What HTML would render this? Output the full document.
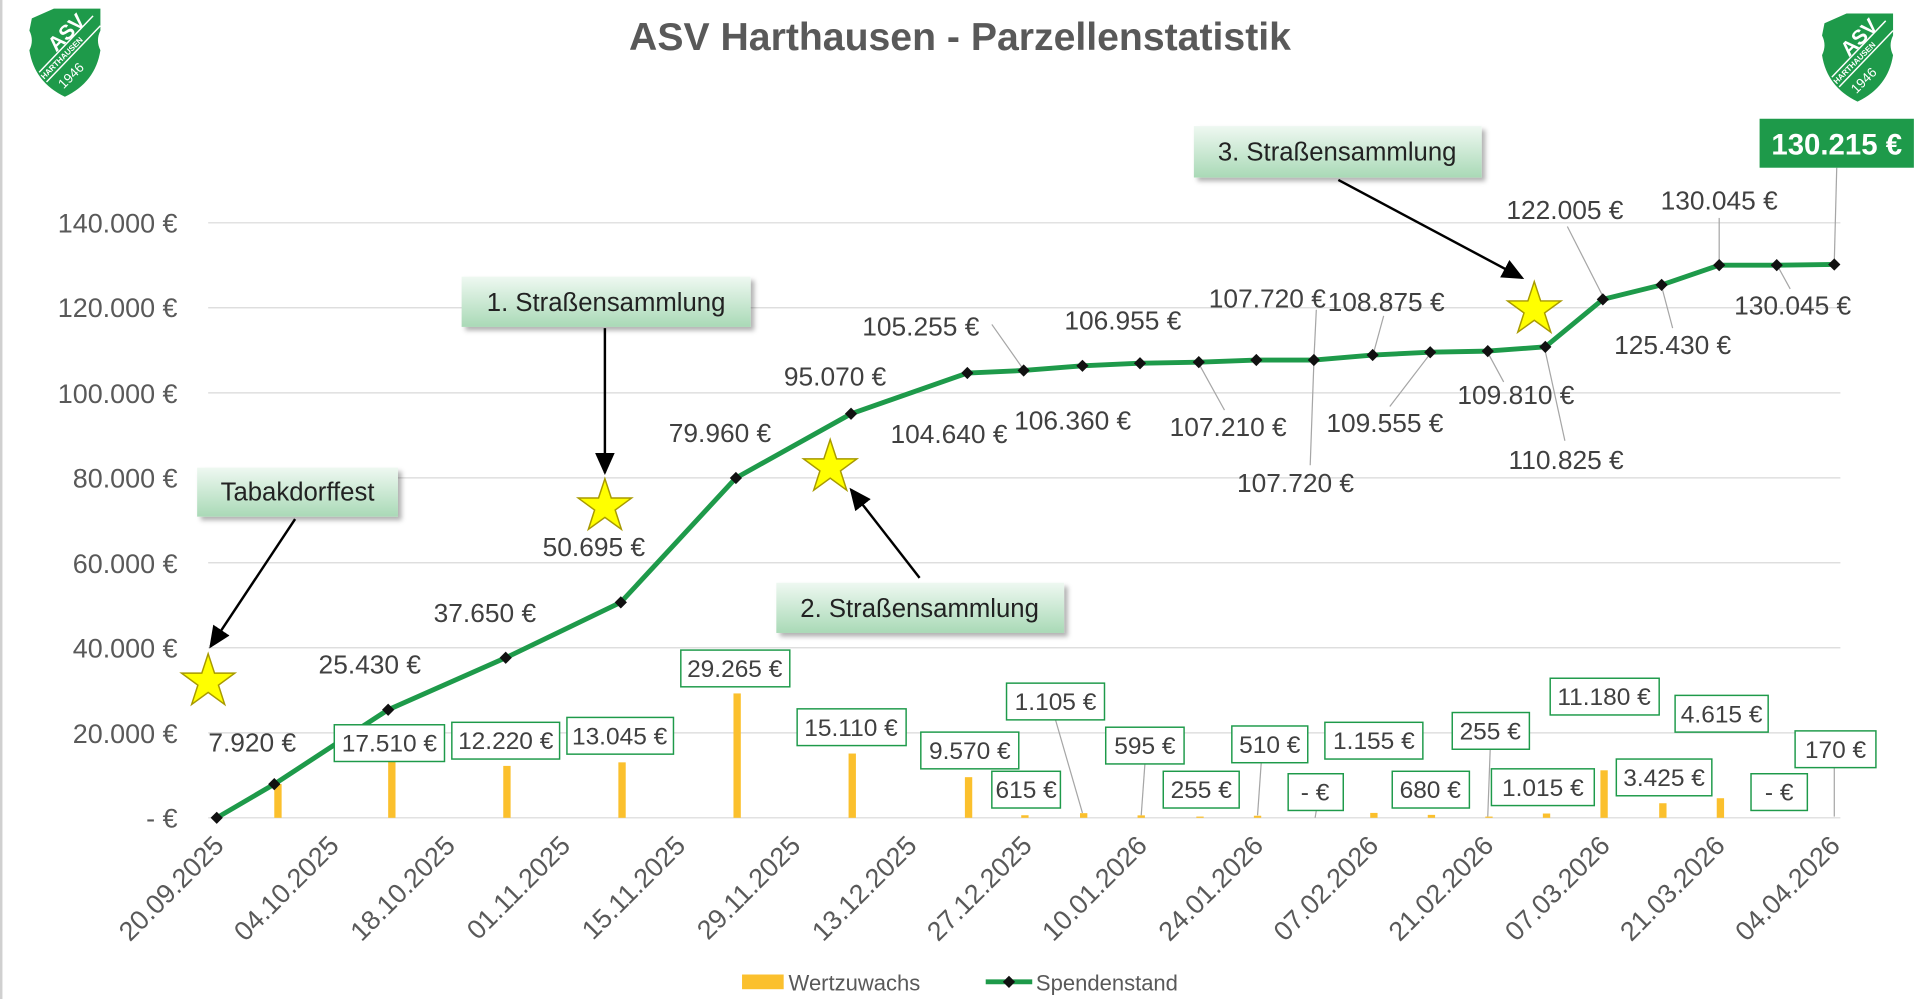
<!DOCTYPE html>
<html><head><meta charset="utf-8"><style>
html,body{margin:0;padding:0;background:#fff;}
svg{display:block;font-family:"Liberation Sans",Arial,sans-serif;}
</style></head><body>
<svg width="1920" height="999" viewBox="0 0 1568 816" preserveAspectRatio="none" xmlns="http://www.w3.org/2000/svg">
<defs>
<linearGradient id="g" x1="0" y1="0" x2="0" y2="1"><stop offset="0" stop-color="#eef8f1"/><stop offset="1" stop-color="#a9d9b6"/></linearGradient>
<filter id="sh" x="-10%" y="-20%" width="130%" height="160%"><feDropShadow dx="3" dy="3" stdDeviation="2" flood-color="#000" flood-opacity="0.3"/></filter>
<marker id="ah" markerWidth="10" markerHeight="10" refX="8" refY="5" orient="auto"><path d="M0,1 L9,5 L0,9 z" fill="#000"/></marker>
<g id="logo"><path d="M2,8 L20,0 L58,0 L58,18 Q54,26 58,34 Q54,60 29,72 Q4,60 0,34 Q4,26 0,18 z" fill="#1e9a4a"/>
<line x1="8" y1="52" x2="52" y2="6" stroke="#fff" stroke-width="1.2"/><line x1="14" y1="60" x2="58" y2="14" stroke="#fff" stroke-width="1.2"/>
<text x="22" y="36" font-size="17" font-weight="bold" fill="#fff" transform="rotate(-45 22 36)">ASV</text>
<text x="12" y="58" font-size="6.5" font-weight="bold" fill="#fff" transform="rotate(-45 12 58)">HARTHAUSEN</text>
<text x="28" y="66" font-size="11" fill="#fff" transform="rotate(-45 28 66)">1946</text></g>
</defs>
<rect x="0" y="0" width="2" height="816" fill="#d0d0d0"/>
<use href="#logo" x="24" y="7"/>
<use href="#logo" x="1488" y="11"/>
<text x="784" y="41" text-anchor="middle" font-size="32" font-weight="bold" fill="#595959">ASV Harthausen - Parzellenstatistik</text>
<g stroke="#d9d9d9" stroke-width="1">
<line x1="170" y1="182" x2="1503" y2="182"/><line x1="170" y1="251.4" x2="1503" y2="251.4"/><line x1="170" y1="320.9" x2="1503" y2="320.9"/><line x1="170" y1="390.3" x2="1503" y2="390.3"/><line x1="170" y1="459.7" x2="1503" y2="459.7"/><line x1="170" y1="529.1" x2="1503" y2="529.1"/><line x1="170" y1="598.6" x2="1503" y2="598.6"/><line x1="170" y1="668" x2="1503" y2="668"/>
</g>
<g font-size="22" fill="#595959" text-anchor="end">
<text x="145" y="190">140.000 €</text><text x="145" y="259">120.000 €</text><text x="145" y="329">100.000 €</text><text x="145" y="398">80.000 €</text><text x="145" y="468">60.000 €</text><text x="145" y="537">40.000 €</text><text x="145" y="607">20.000 €</text><text x="145" y="676">-  €</text>
</g>
<g font-size="22" fill="#595959" text-anchor="end">
<text transform="translate(184,692) rotate(-45)">20.09.2025</text>
<text transform="translate(278,692) rotate(-45)">04.10.2025</text>
<text transform="translate(373,692) rotate(-45)">18.10.2025</text>
<text transform="translate(467,692) rotate(-45)">01.11.2025</text>
<text transform="translate(561,692) rotate(-45)">15.11.2025</text>
<text transform="translate(655,692) rotate(-45)">29.11.2025</text>
<text transform="translate(750,692) rotate(-45)">13.12.2025</text>
<text transform="translate(844,692) rotate(-45)">27.12.2025</text>
<text transform="translate(938,692) rotate(-45)">10.01.2026</text>
<text transform="translate(1033,692) rotate(-45)">24.01.2026</text>
<text transform="translate(1127,692) rotate(-45)">07.02.2026</text>
<text transform="translate(1221,692) rotate(-45)">21.02.2026</text>
<text transform="translate(1316,692) rotate(-45)">07.03.2026</text>
<text transform="translate(1410,692) rotate(-45)">21.03.2026</text>
<text transform="translate(1504,692) rotate(-45)">04.04.2026</text>
</g>
<g fill="#fbc02d">
<rect x="224" y="640.5" width="6" height="27.5"/><rect x="317" y="607.2" width="6" height="60.8"/><rect x="411" y="625.6" width="6" height="42.4"/><rect x="505" y="622.7" width="6" height="45.3"/><rect x="599" y="566.4" width="6" height="101.6"/><rect x="693" y="615.5" width="6" height="52.5"/><rect x="788" y="634.8" width="6" height="33.2"/><rect x="834" y="665.9" width="6" height="2.1"/><rect x="882" y="664.2" width="6" height="3.8"/><rect x="929" y="666" width="6" height="2"/><rect x="977" y="667" width="6" height="1"/><rect x="1024" y="666.3" width="6" height="1.7"/><rect x="1119" y="664" width="6" height="4"/><rect x="1166" y="665.6" width="6" height="2.4"/><rect x="1213" y="667" width="6" height="1"/><rect x="1260" y="664.5" width="6" height="3.5"/><rect x="1307" y="629.2" width="6" height="38.8"/><rect x="1355" y="656.1" width="6" height="11.9"/><rect x="1402" y="652" width="6" height="16"/>
</g>
<g stroke="#a6a6a6" stroke-width="1" fill="none">
<line x1="862" y1="588" x2="884" y2="664"/><line x1="935" y1="624" x2="932" y2="666"/><line x1="1030" y1="623" x2="1027" y2="666"/><line x1="1217" y1="612" x2="1215" y2="667"/><line x1="1498" y1="627" x2="1498" y2="667"/><line x1="1075" y1="662" x2="1074" y2="668"/>
<line x1="810" y1="265" x2="836" y2="302"/><line x1="1500" y1="137" x2="1498" y2="214"/><line x1="1280" y1="185" x2="1309" y2="242"/><line x1="1075" y1="253" x2="1073" y2="294"/><line x1="1070" y1="380" x2="1073" y2="296"/><line x1="979" y1="297" x2="1000" y2="335"/><line x1="1121" y1="291" x2="1130" y2="258"/><line x1="1168" y1="289" x2="1135" y2="332"/><line x1="1215" y1="288" x2="1228" y2="312"/><line x1="1262" y1="287" x2="1278" y2="360"/><line x1="1357" y1="234" x2="1366" y2="268"/><line x1="1404" y1="216" x2="1404" y2="178"/><line x1="1451" y1="216" x2="1462" y2="236"/>
</g>
<polyline fill="none" stroke="#1e9a4a" stroke-width="4" stroke-linejoin="round" points="177,668 224,640.5 317,579.7 413,537.3 507,492 601,390.4 695,338 790,304.7 836,302.6 884,298.8 931,296.7 979,295.8 1026,294.1 1073,294.1 1121,290 1168,287.7 1215,286.8 1262,283.3 1309,244.5 1357,232.7 1404,216.6 1451,216.6 1498,216"/>
<g fill="#111">
<path d="M177,663l5,5-5,5-5-5z"/><path d="M224,635.5l5,5-5,5-5-5z"/><path d="M317,574.7l5,5-5,5-5-5z"/><path d="M413,532.3l5,5-5,5-5-5z"/><path d="M507,487l5,5-5,5-5-5z"/><path d="M601,385.4l5,5-5,5-5-5z"/><path d="M695,333l5,5-5,5-5-5z"/><path d="M790,299.7l5,5-5,5-5-5z"/><path d="M836,297.6l5,5-5,5-5-5z"/><path d="M884,293.8l5,5-5,5-5-5z"/><path d="M931,291.7l5,5-5,5-5-5z"/><path d="M979,290.8l5,5-5,5-5-5z"/><path d="M1026,289.1l5,5-5,5-5-5z"/><path d="M1073,289.1l5,5-5,5-5-5z"/><path d="M1121,285l5,5-5,5-5-5z"/><path d="M1168,282.7l5,5-5,5-5-5z"/><path d="M1215,281.8l5,5-5,5-5-5z"/><path d="M1262,278.3l5,5-5,5-5-5z"/><path d="M1309,239.5l5,5-5,5-5-5z"/><path d="M1357,227.7l5,5-5,5-5-5z"/><path d="M1404,211.6l5,5-5,5-5-5z"/><path d="M1451,211.6l5,5-5,5-5-5z"/><path d="M1498,211l5,5-5,5-5-5z"/>
</g>
<g font-size="21.5" fill="#404040" text-anchor="middle">
<text x="206" y="614">7.920 €</text><text x="302" y="550">25.430 €</text><text x="396" y="508">37.650 €</text><text x="485" y="454">50.695 €</text><text x="588" y="361">79.960 €</text><text x="682" y="315">95.070 €</text><text x="775" y="362">104.640 €</text><text x="752" y="274">105.255 €</text><text x="876" y="351">106.360 €</text><text x="917" y="269">106.955 €</text><text x="1003" y="356">107.210 €</text><text x="1035" y="251">107.720 €</text><text x="1058" y="402">107.720 €</text><text x="1132" y="254">108.875 €</text><text x="1131" y="353">109.555 €</text><text x="1238" y="330">109.810 €</text><text x="1279" y="383">110.825 €</text><text x="1278" y="179">122.005 €</text><text x="1366" y="289">125.430 €</text><text x="1404" y="171">130.045 €</text><text x="1464" y="257">130.045 €</text>
</g>
<g fill="#fff" stroke="#1e9a4a" stroke-width="1.2">
<rect x="273" y="592" width="90" height="30"/><rect x="369" y="590" width="88" height="30"/><rect x="463" y="586" width="87" height="30"/><rect x="556" y="531" width="89" height="30"/><rect x="651" y="579" width="89" height="30"/><rect x="752" y="598" width="80" height="30"/><rect x="810" y="630" width="56" height="30"/><rect x="822" y="558" width="80" height="30"/><rect x="903" y="594" width="64" height="30"/><rect x="950" y="630" width="62" height="30"/><rect x="1006" y="593" width="62" height="30"/><rect x="1052" y="632" width="45" height="30"/><rect x="1082" y="590" width="80" height="30"/><rect x="1137" y="630" width="63" height="30"/><rect x="1186" y="582" width="63" height="30"/><rect x="1218" y="628" width="84" height="30"/><rect x="1266" y="554" width="89" height="30"/><rect x="1320" y="620" width="78" height="30"/><rect x="1368" y="568" width="76" height="30"/><rect x="1430" y="632" width="46" height="30"/><rect x="1466" y="597" width="66" height="30"/>
</g>
<g font-size="20" fill="#404040" text-anchor="middle">
<text x="318" y="614">17.510 €</text><text x="413" y="612">12.220 €</text><text x="506" y="608">13.045 €</text><text x="600" y="553">29.265 €</text><text x="695" y="601">15.110 €</text><text x="792" y="620">9.570 €</text><text x="838" y="652">615 €</text><text x="862" y="580">1.105 €</text><text x="935" y="616">595 €</text><text x="981" y="652">255 €</text><text x="1037" y="615">510 €</text><text x="1074" y="654">-  €</text><text x="1122" y="612">1.155 €</text><text x="1168" y="652">680 €</text><text x="1217" y="604">255 €</text><text x="1260" y="650">1.015 €</text><text x="1310" y="576">11.180 €</text><text x="1359" y="642">3.425 €</text><text x="1406" y="590">4.615 €</text><text x="1453" y="654">-  €</text><text x="1499" y="619">170 €</text>
</g>
<rect x="1437" y="97" width="126" height="40" fill="#1e9a4a"/>
<text x="1500" y="126" text-anchor="middle" font-size="24" font-weight="bold" fill="#fff">130.215 €</text>
<g stroke="#000" stroke-width="2" marker-end="url(#ah)">
<line x1="241" y1="424" x2="172" y2="528"/><line x1="494" y1="268" x2="494" y2="386"/><line x1="751" y1="472" x2="695" y2="400"/><line x1="1093" y1="147" x2="1243" y2="227"/>
</g>
<g fill="#ffff00" stroke="#a89a00" stroke-width="1.2">
<path d="M170,534l5.2,15.8h16.6l-13.4,9.8l5.1,15.8l-13.5-9.8l-13.5,9.8l5.1-15.8l-13.4-9.8h16.6z"/>
<path d="M494,391l5.2,15.8h16.6l-13.4,9.8l5.1,15.8l-13.5-9.8l-13.5,9.8l5.1-15.8l-13.4-9.8h16.6z"/>
<path d="M678,359l5.2,15.8h16.6l-13.4,9.8l5.1,15.8l-13.5-9.8l-13.5,9.8l5.1-15.8l-13.4-9.8h16.6z"/>
<path d="M1253,230l5.2,15.8h16.6l-13.4,9.8l5.1,15.8l-13.5-9.8l-13.5,9.8l5.1-15.8l-13.4-9.8h16.6z"/>
</g>
<g filter="url(#sh)" fill="url(#g)">
<rect x="161" y="382" width="164" height="40"/><rect x="377" y="226" width="236" height="41"/><rect x="634" y="476" width="235" height="41"/><rect x="975" y="103" width="235" height="42"/>
</g>
<g font-size="21" fill="#222" text-anchor="middle">
<text x="243" y="409">Tabakdorffest</text><text x="495" y="254">1. Straßensammlung</text><text x="751" y="504">2. Straßensammlung</text><text x="1092" y="131">3. Straßensammlung</text>
</g>
<rect x="606" y="796" width="34" height="12" fill="#fbc02d"/>
<text x="644" y="809" font-size="18" fill="#595959">Wertzuwachs</text>
<line x1="805" y1="802" x2="843" y2="802" stroke="#1e9a4a" stroke-width="4"/>
<path d="M824,797l5,5-5,5-5-5z" fill="#111"/>
<text x="846" y="809" font-size="18" fill="#595959">Spendenstand</text>
</svg>
</body></html>
